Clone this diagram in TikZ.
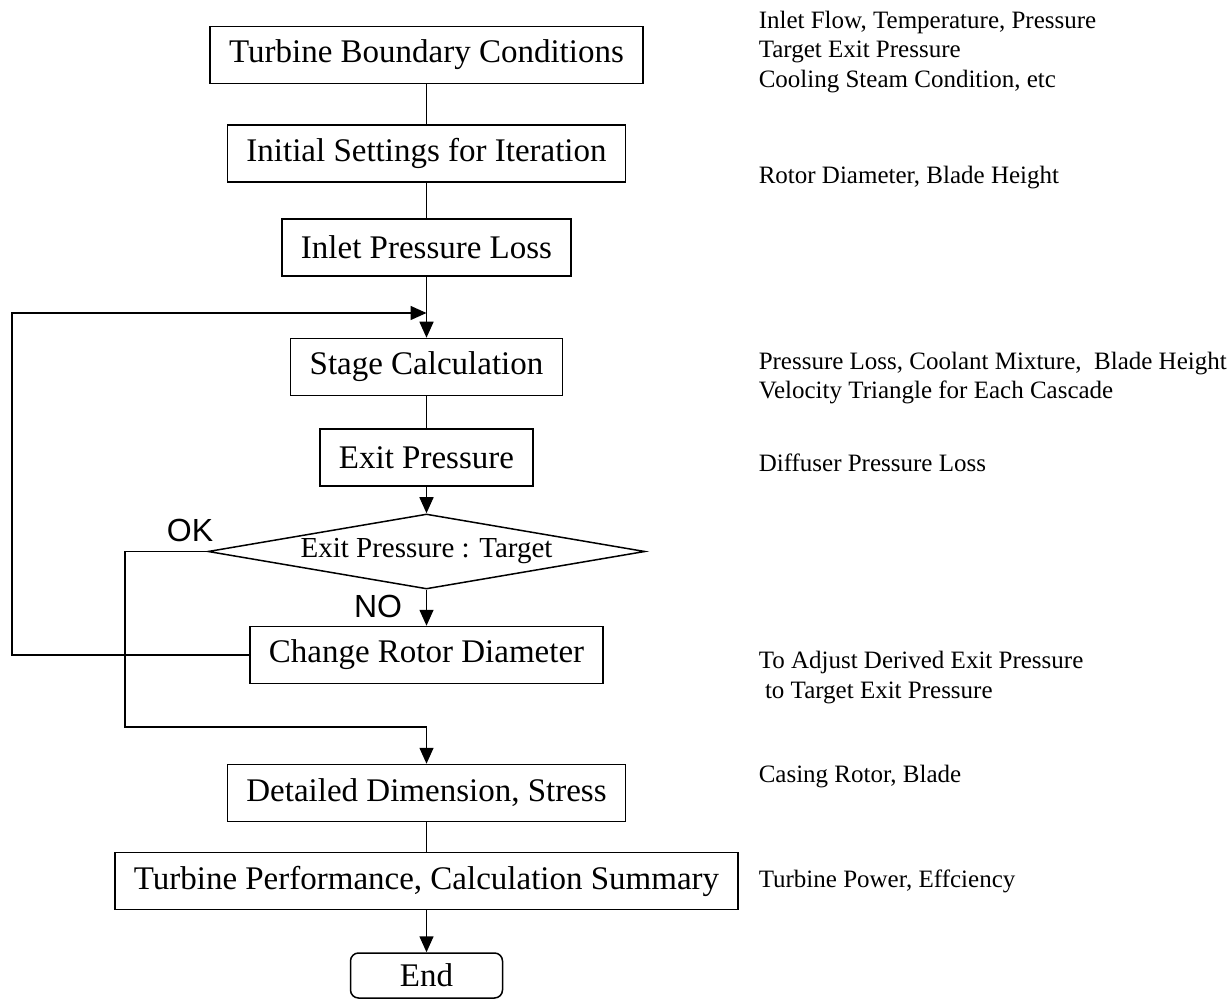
\documentclass[tikz,border=0pt]{standalone}
\usepackage{fontspec}
\setmainfont{Liberation Serif}
\newfontfamily\answerfont{Liberation Sans}
\usetikzlibrary{shapes.geometric,arrows.meta}

\begin{document}
\begin{tikzpicture}[x=0.5pt,y=-0.5pt,line width=0.75pt,
		>={Triangle[length=8pt,width=7pt]},
		block/.style={draw,rectangle,minimum height=28.5pt,inner xsep=9.5pt,font=\fontsize{16.5}{19}\selectfont},
		endblock/.style={draw,rectangle,rounded corners=4pt,minimum width=76pt,minimum height=22.5pt,font=\fontsize{16.5}{19}\selectfont},
		decision/.style={draw,diamond,aspect=5.8,inner sep=0pt,minimum width=218.5pt,minimum height=37.5pt,font=\fontsize{14.5}{17}\selectfont},
		answer/.style={font=\answerfont\fontsize{16}{19}\selectfont},
		note/.style={anchor=west,align=left,inner sep=0pt,font=\fontsize{12.5}{14.75}\selectfont}]
		\useasboundingbox (0,0) rectangle (1231,999);
		
		%Main chain
		\node[block] (tbc) at (426.5,55) {Turbine Boundary Conditions};
		\node[block] (init) at (426.5,153.5) {Initial Settings for Iteration};
		\node[block] (inlet) at (426.5,247.5) {Inlet Pressure Loss};
		\node[block] (stage) at (426.5,367) {Stage Calculation};
		\node[block] (exitp) at (426.5,457.5) {Exit Pressure};
		\node[decision] (check) at (426.5,551.5) {Exit Pressure : Target};
		\node[block] (change) at (426.5,655) {Change Rotor Diameter};
		\node[block] (detail) at (426.5,793) {Detailed Dimension, Stress};
		\node[block] (perf) at (426.5,881) {Turbine Performance, Calculation Summary};
		\node[endblock] (finish) at (426.5,975.5) {End};
		
		\draw (tbc) -- (init);
		\draw (init) -- (inlet);
		\draw[->] (inlet) -- (stage);
		\draw (stage) -- (exitp);
		\draw[->] (exitp) -- (check);
		\draw[->] (check) -- (change);
		\draw (detail) -- (perf);
		\draw[->] (perf) -- (finish);
		
		%Iteration loop
		\coordinate (back) at (12,313);
		\coordinate (join) at (426.5,313);
		\draw[->] (change.west) -| (back) -- (join);
		
		%Converged branch
		\coordinate (okturn) at (125,727);
		\draw[->] (check.west) -| (okturn) -| (detail.north);
		
		\node[answer] (ok) at (190,530) {OK};
		\node[answer] (no) at (378,606) {NO};
		
		%Side notes
		\node[note] (n1) at (758,52) {Inlet Flow, Temperature, Pressure\\Target Exit Pressure\\Cooling Steam Condition, etc};
		\node[note] (n2) at (758,178) {Rotor Diameter, Blade Height};
		\node[note] (n3) at (758,378) {Pressure Loss, Coolant Mixture,\ \ Blade Height\\Velocity Triangle for Each Cascade};
		\node[note] (n4) at (758,463) {Diffuser Pressure Loss};
		\node[note] (n5) at (758,677.5) {To Adjust Derived Exit Pressure\\\ to Target Exit Pressure};
		\node[note] (n6) at (758,777) {Casing Rotor, Blade};
		\node[note] (n7) at (758,881) {Turbine Power, Effciency};
		
	\end{tikzpicture}
\end{document}
